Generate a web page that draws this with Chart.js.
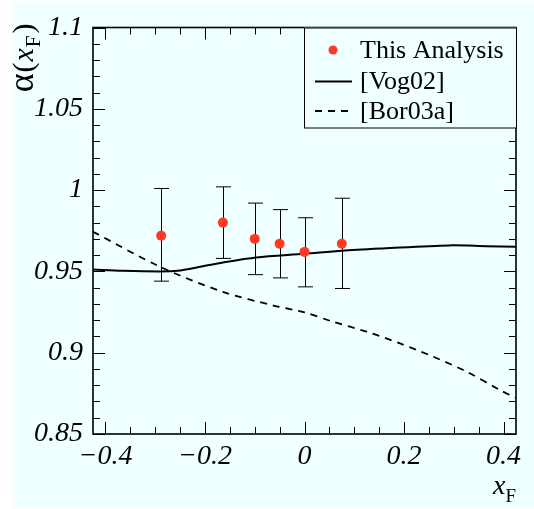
<!DOCTYPE html>
<html>
<head>
<meta charset="utf-8">
<script src="https://cdn.jsdelivr.net/npm/chart.js@4"></script>
<style>
    body { margin: 0; background: #ffffff; }
    #bg { position: absolute; left: 13px; top: 2px; width: 521px; height: 506px; background: #f0ffff; }
    #myChart { position: absolute; left: 0; top: 0; }
</style>
</head>
<body>
<div id="bg"></div>
<canvas id="myChart" width="534" height="509"></canvas>
<script>
// measured points (This Analysis)
const pointX = [-0.288, -0.164, -0.1, -0.05, 0.0, 0.075];
const pointY = [0.972, 0.980, 0.970, 0.967, 0.962, 0.967];
const errHigh = [1.001, 1.002, 0.992, 0.988, 0.983, 0.995];
const errLow = [0.944, 0.958, 0.948, 0.946, 0.9405, 0.9395];

// [Vog02] curve
const vogX = [-0.425, -0.365, -0.29, -0.255, -0.21, -0.164, -0.097, 0.0, 0.075, 0.158, 0.29, 0.366, 0.425];
const vogY = [0.9512, 0.9504, 0.950, 0.9504, 0.9528, 0.9555, 0.9586, 0.9608, 0.9627, 0.9641, 0.966, 0.9655, 0.9651];

// [Bor03a] curve
const borX = [-0.425, -0.29, -0.164, -0.062, 0.0, 0.0575, 0.125, 0.192, 0.259, 0.326, 0.393, 0.425];
const borY = [0.9744, 0.9528, 0.9374, 0.929, 0.9248, 0.919, 0.9129, 0.9057, 0.8975, 0.8883, 0.877, 0.8722];

const xTicks = [-0.4, -0.2, 0, 0.2, 0.4];
const yTicks = [0.85, 0.9, 0.95, 1, 1.05, 1.1];
const legendLabels = ["This Analysis", "[Vog02]", "[Bor03a]"];

const RED = "#ff3a24";
const SERIF = "'Liberation Serif', serif";

function fmt(v) {
    const s = String(+v.toFixed(2));
    return s.replace("-", "\u2212");
}

const rootStyle = {
    id: "rootStyle",
    beforeDatasetsDraw(chart) {
        // error bars
        const c = chart.ctx;
        const xs = chart.scales.x, ys = chart.scales.y;
        c.save();
        c.strokeStyle = "#000";
        c.lineWidth = 1;
        pointX.forEach((x, i) => {
            const px = Math.round(xs.getPixelForValue(x)) + 0.5;
            const top = ys.getPixelForValue(errHigh[i]);
            const bot = ys.getPixelForValue(errLow[i]);
            c.beginPath();
            c.moveTo(px, top); c.lineTo(px, bot);
            c.moveTo(px - 7.5, top); c.lineTo(px + 7.5, top);
            c.moveTo(px - 7.5, bot); c.lineTo(px + 7.5, bot);
            c.stroke();
        });
        c.restore();
    },
    afterDraw(chart) {
        const c = chart.ctx;
        const a = chart.chartArea;
        const xs = chart.scales.x, ys = chart.scales.y;
        c.save();
        c.strokeStyle = "#000";
        c.lineWidth = 1;
        // inward ticks on all sides
        c.beginPath();
        for (let k = -8; k <= 8; k++) {
            const v = k * 0.05;
            const px = Math.round(xs.getPixelForValue(v)) + 0.5;
            const len = (k % 4 === 0) ? 12 : 7;
            c.moveTo(px, a.bottom); c.lineTo(px, a.bottom - len);
            c.moveTo(px, a.top); c.lineTo(px, a.top + len);
        }
        for (let k = 85; k <= 110; k++) {
            const v = k / 100;
            const py = Math.round(ys.getPixelForValue(v)) + 0.5;
            const len = (k % 5 === 0) ? 12 : 7;
            c.moveTo(a.left, py); c.lineTo(a.left + len, py);
            c.moveTo(a.right, py); c.lineTo(a.right - len, py);
        }
        c.stroke();
        // frame
        c.lineWidth = 1.6;
        c.strokeRect(a.left, a.top, a.right - a.left, a.bottom - a.top);

        // legend
        const lx = a.right - 212, ly = a.top, lw = 212, lh = 100;
        c.fillStyle = "#f0ffff";
        c.fillRect(lx, ly, lw, lh);
        c.lineWidth = 1;
        c.strokeRect(lx + 0.5, ly + 0.5, lw, lh);
        const rows = [ly + 22.5, ly + 54, ly + 83.5];
        c.font = "26px " + SERIF;
        c.fillStyle = "#000";
        c.textBaseline = "middle";
        c.textAlign = "left";
        legendLabels.forEach((t, i) => c.fillText(t, lx + 56, rows[i] + 1));
        c.fillStyle = RED;
        c.beginPath();
        c.arc(lx + 29, rows[0], 4.5, 0, Math.PI * 2);
        c.fill();
        c.strokeStyle = "#000";
        c.lineWidth = 2;
        c.beginPath();
        c.moveTo(lx + 11, rows[1]); c.lineTo(lx + 48, rows[1]);
        c.stroke();
        c.lineWidth = 1.8;
        c.setLineDash([7, 6]);
        c.beginPath();
        c.moveTo(lx + 11, rows[2]); c.lineTo(lx + 48, rows[2]);
        c.stroke();
        c.setLineDash([]);

        // x title: x_F
        c.fillStyle = "#000";
        c.textBaseline = "alphabetic";
        c.textAlign = "left";
        c.font = "19px " + SERIF;
        const fw = c.measureText("F").width;
        c.font = "italic 28px " + SERIF;
        const xw = c.measureText("x").width;
        const tx = a.right - fw - xw;
        c.fillText("x", tx, 494);
        c.font = "19px " + SERIF;
        c.fillText("F", tx + xw, 502);

        // y title: alpha(x_F), rotated
        c.translate(33, a.top - 4);
        c.rotate(-Math.PI / 2);
        const parts = [
            { t: "\u03b1", f: "36px " + SERIF, dy: 0, gap: 1 },
            { t: "(", f: "30px " + SERIF, dy: 0, gap: 1 },
            { t: "x", f: "italic 30px " + SERIF, dy: 0, gap: 1 },
            { t: "F", f: "21px " + SERIF, dy: 7, gap: 2 },
            { t: ")", f: "30px " + SERIF, dy: 0, gap: 0 },
        ];
        let total = 0;
        parts.forEach(p => { c.font = p.f; p.w = c.measureText(p.t).width; total += p.w + p.gap; });
        let cx = -total;
        parts.forEach(p => { c.font = p.f; c.fillText(p.t, cx, p.dy); cx += p.w + p.gap; });
        c.restore();
    }
};

function drawChart() {
    const ctx = document.getElementById("myChart");
    new Chart(ctx, {
        type: "scatter",
        data: {
            datasets: [
                {
                    label: legendLabels[0],
                    data: pointX.map((x, i) => ({ x: x, y: pointY[i] })),
                    backgroundColor: RED,
                    borderColor: RED,
                    pointRadius: 5,
                    pointBorderWidth: 0,
                    showLine: false,
                    order: 0,
                },
                {
                    label: legendLabels[1],
                    type: "line",
                    data: vogX.map((x, i) => ({ x: x, y: vogY[i] })),
                    borderColor: "#000",
                    borderWidth: 2,
                    pointRadius: 0,
                    tension: 0.3,
                    fill: false,
                    order: 1,
                },
                {
                    label: legendLabels[2],
                    type: "line",
                    data: borX.map((x, i) => ({ x: x, y: borY[i] })),
                    borderColor: "#000",
                    borderWidth: 1.8,
                    borderDash: [7, 6],
                    pointRadius: 0,
                    tension: 0.3,
                    fill: false,
                    order: 2,
                },
            ],
        },
        options: {
            responsive: false,
            animation: false,
            layout: { padding: { top: 27.5, right: 18, left: 0, bottom: 0 } },
            plugins: { legend: { display: false }, tooltip: { enabled: false } },
            scales: {
                x: {
                    type: "linear",
                    min: -0.425,
                    max: 0.425,
                    afterBuildTicks: (s) => { s.ticks = xTicks.map((v) => ({ value: v })); },
                    afterFit: (s) => { s.height = 75; },
                    grid: { display: false, drawTicks: false },
                    border: { display: false },
                    ticks: {
                        callback: fmt,
                        color: "#000",
                        padding: 6,
                        maxRotation: 0,
                        autoSkip: false,
                        font: { family: SERIF, size: 28, style: "italic" },
                    },
                },
                y: {
                    type: "linear",
                    min: 0.85,
                    max: 1.1,
                    afterBuildTicks: (s) => { s.ticks = yTicks.map((v) => ({ value: v })); },
                    afterFit: (s) => { s.width = 93; },
                    grid: { display: false, drawTicks: false },
                    border: { display: false },
                    ticks: {
                        callback: fmt,
                        color: "#000",
                        padding: 10,
                        autoSkip: false,
                        font: { family: SERIF, size: 28, style: "italic" },
                    },
                },
            },
        },
        plugins: [rootStyle],
    });
}

Promise.all([
    document.fonts.load("28px 'Liberation Serif'"),
    document.fonts.load("italic 28px 'Liberation Serif'"),
]).then(drawChart, drawChart);
</script>
</body>
</html>
